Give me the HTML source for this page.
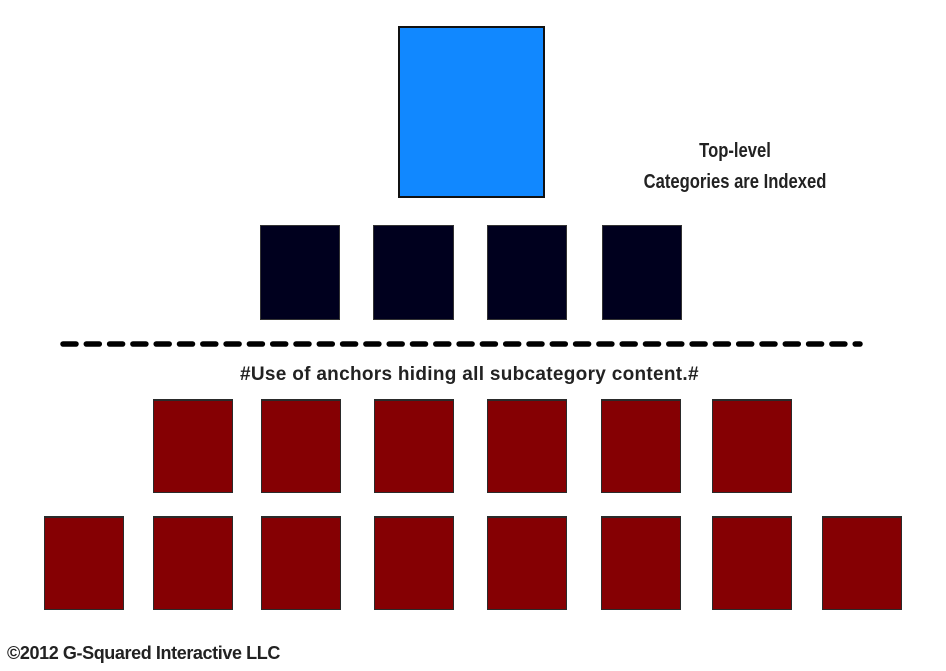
<!DOCTYPE html>
<html><head><meta charset="utf-8"><style>
body{margin:0;width:946px;height:671px;background:#fff;overflow:hidden;position:relative;font-family:"Liberation Sans",sans-serif}
.b{position:absolute;box-sizing:border-box}
.k{background:#00001e;border:1px solid #333}
.r{background:#850003;border:1.5px solid #2a2a2a;border-top-width:2px}
.t{position:absolute;color:#222;white-space:nowrap;font-weight:bold}
</style></head><body>
<div class="b" style="left:398px;top:26px;width:147px;height:172px;background:#1188ff;border:2px solid #111"></div>
<div class="t" style="left:620px;top:136px;width:230px;text-align:center;font-size:20px;line-height:31px;transform:scaleX(0.83)">Top-level<br>Categories are Indexed</div>
<div class="b k" style="left:260px;top:225px;width:80px;height:95px"></div>
<div class="b k" style="left:373px;top:225px;width:81px;height:95px"></div>
<div class="b k" style="left:487px;top:225px;width:80px;height:95px"></div>
<div class="b k" style="left:602px;top:225px;width:80px;height:95px"></div>
<svg style="position:absolute;left:0;top:0" width="946" height="671"><line x1="63" y1="344" x2="860" y2="344" stroke="#000" stroke-width="5.5" stroke-linecap="round" stroke-dasharray="13 10.3"/></svg>
<div class="t" style="left:240px;top:364px;font-size:19px;letter-spacing:0.3px">#Use of anchors hiding all subcategory content.#</div>
<div class="b r" style="left:153px;top:399px;width:80px;height:94px"></div>
<div class="b r" style="left:261px;top:399px;width:80px;height:94px"></div>
<div class="b r" style="left:374px;top:399px;width:80px;height:94px"></div>
<div class="b r" style="left:487px;top:399px;width:80px;height:94px"></div>
<div class="b r" style="left:601px;top:399px;width:80px;height:94px"></div>
<div class="b r" style="left:712px;top:399px;width:80px;height:94px"></div>
<div class="b r" style="left:44px;top:516px;width:80px;height:94px"></div>
<div class="b r" style="left:153px;top:516px;width:80px;height:94px"></div>
<div class="b r" style="left:261px;top:516px;width:80px;height:94px"></div>
<div class="b r" style="left:374px;top:516px;width:80px;height:94px"></div>
<div class="b r" style="left:487px;top:516px;width:80px;height:94px"></div>
<div class="b r" style="left:601px;top:516px;width:80px;height:94px"></div>
<div class="b r" style="left:712px;top:516px;width:80px;height:94px"></div>
<div class="b r" style="left:822px;top:516px;width:80px;height:94px"></div>
<div class="t" style="left:7px;top:643px;font-size:18px;letter-spacing:-0.4px">©2012 G-Squared Interactive LLC</div>
</body></html>
